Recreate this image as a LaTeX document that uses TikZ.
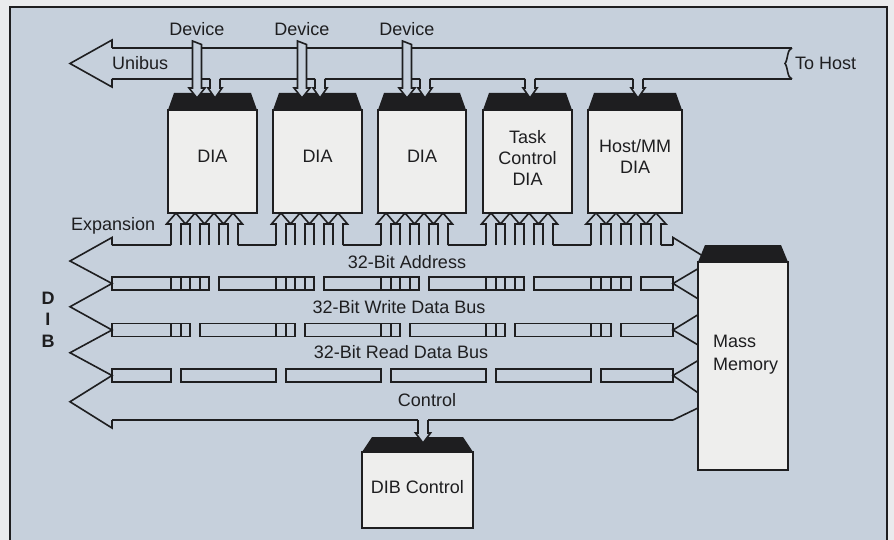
\documentclass[tikz,border=0pt]{standalone}
\usepackage{fontspec}
\setmainfont{Liberation Sans}
\definecolor{paper}{RGB}{234,235,237}
\definecolor{bg}{RGB}{198,208,220}
\definecolor{chipw}{RGB}{238,238,237}
\definecolor{ink}{RGB}{30,30,32}
\tikzset{
 ln/.style={draw=ink, line width=1.6pt, line join=miter, line cap=butt},
 lbl/.style={font=\fontsize{18}{21.5}\selectfont, text=ink, inner sep=0pt},
 boldlbl/.style={font=\fontsize{18}{21.5}\selectfont\bfseries, text=ink, inner sep=0pt},
 chipbody/.style={ln, fill=chipw},
 chiptop/.style={fill=ink},
 arrowfill/.style={fill=bg},
}
\begin{document}
\begin{tikzpicture}[x=1pt,y=-1pt]
\useasboundingbox (0,0) rectangle (894,540);
\fill[paper] (0,0) rectangle (894,540);
\fill[bg] (10,7) rectangle (887,560);
\draw[ln] (10,560) -- (10,7) -- (887,7) -- (887,560);

% ---------- DIA chips ----------
\foreach \L/\R in {168/257, 273/362, 378/466, 483/572, 588/682} {
  \fill[chiptop] (\L,110) -- ({\L+6},93) -- ({\R-6},93) -- (\R,110) -- cycle;
  \draw[chipbody] (\L,110) rectangle (\R,213);
}
\node[lbl, anchor=base] (dia1) at (212.5,163) {DIA};
\node[lbl, anchor=base] (dia2) at (317.5,163) {DIA};
\node[lbl, anchor=base] (dia3) at (422,163) {DIA};
\node[lbl, anchor=base, align=center] (tcdia) at (527.5,186) {Task\\Control\\DIA};
\node[lbl, anchor=base, align=center] (hmdia) at (635,174) {Host/MM\\DIA};

% ---------- Unibus ----------
\draw[ln] (112,48) -- (112,40) -- (70,63.5) -- (112,87) -- (112,79);
\draw[ln] (112,48) -- (192.5,48);
\draw[ln] (201.5,48) -- (297.5,48);
\draw[ln] (306.5,48) -- (402.5,48);
\draw[ln] (411.5,48) -- (792,48);
\draw[ln] (112,79) -- (192.5,79);
\draw[ln] (201.5,79) -- (210,79);
\draw[ln] (220,79) -- (297.5,79);
\draw[ln] (306.5,79) -- (315,79);
\draw[ln] (325,79) -- (402.5,79);
\draw[ln] (411.5,79) -- (420,79);
\draw[ln] (430,79) -- (525,79);
\draw[ln] (535,79) -- (633,79);
\draw[ln] (643,79) -- (792,79);
\draw[ln] (792,48) .. controls (787,49) and (788,60) .. (785,63.5)
                   .. controls (788,67) and (787,78) .. (792,79);
\node[lbl, anchor=base west] (unibus) at (112,70) {Unibus};
\node[lbl, anchor=base west] (tohost) at (795,70) {To Host};

% device arrows
\foreach \c/\n in {197/1, 302/2, 407/3} {
  \draw[ln, arrowfill] ({\c-4.5},88) -- ({\c-4.5},41) -- ({\c+4.5},44.5) -- ({\c+4.5},88)
     -- ({\c+8},88) -- (\c,98) -- ({\c-8},88) -- cycle;
  \node[lbl, anchor=base] (dev\n) at (\c,36) {Device};
}
% unibus taps
\foreach \c in {215, 320, 425, 530, 638} {
  \fill[arrowfill] ({\c-5},79) -- ({\c-5},88) -- ({\c-7},88) -- (\c,98) -- ({\c+7},88) -- ({\c+5},88) -- ({\c+5},79) -- cycle;
  \draw[ln] ({\c-5},79) -- ({\c-5},88) -- ({\c-7},88) -- (\c,98) -- ({\c+7},88) -- ({\c+5},88) -- ({\c+5},79);
}

% ---------- DIB buses ----------
% left heads
\draw[ln] (112,245) -- (112,237.5) -- (70,261) -- (112,283.5) -- (70,306.75) -- (112,330)
   -- (70,352.75) -- (112,375.5) -- (70,401.75) -- (112,428) -- (112,420);
% right heads
\draw[ln] (673,245) -- (673,237.5) -- (711,261) -- (673,283.5) -- (711,306.75) -- (673,330)
   -- (711,352.75) -- (673,375.5) -- (711,401.75) -- (673,420);
% expansion / address top line
\draw[ln] (112,245) -- (171,245);
\draw[ln] (238,245) -- (276,245);
\draw[ln] (343,245) -- (381,245);
\draw[ln] (448,245) -- (486,245);
\draw[ln] (553,245) -- (591,245);
\draw[ln] (661,245) -- (673,245);
% strip A
\foreach \a/\b in {112/209, 219/314, 324/419, 429/524, 534/631, 641/673}
  \draw[ln] (\a,277) rectangle (\b,290);
% strip B
\foreach \a/\b in {112/190, 200/295, 305/400, 410/505, 515/611, 621/673}
  \draw[ln] (\a,323.5) rectangle (\b,336.5);
% strip C
\foreach \a/\b in {112/171, 181/276, 286/381, 391/486, 496/591, 601/673}
  \draw[ln] (\a,369) rectangle (\b,382);
% control bottom line
\draw[ln] (112,420) -- (418,420);
\draw[ln] (428,420) -- (673,420);

% chip taps to the DIB (four up arrows per chip)
\foreach \L/\p in {168/19, 273/19, 378/19, 483/19, 588/20} {
  \pgfmathsetmacro\sa{\L+3}
  \pgfmathsetmacro\sb{\L+3+\p}
  \pgfmathsetmacro\sc{\L+3+2*\p}
  \pgfmathsetmacro\sd{\L+3+3*\p}
  \pgfmathsetmacro\hh{\p/2}
  \draw[ln] (\sa,245) -- (\sa,224) -- ({\sa+5-\hh},224) -- ({\sa+5},213) -- ({\sa+5+\hh},224)
     -- ({\sb+5},213) -- ({\sb+5+\hh},224) -- ({\sc+5},213) -- ({\sc+5+\hh},224)
     -- ({\sd+5},213) -- ({\sd+5+\hh},224) -- ({\sd+10},224) -- ({\sd+10},245);
  \draw[ln] ({\sa+10},245) -- ({\sa+10},224) -- (\sb,224) -- (\sb,245);
  \draw[ln] ({\sb+10},245) -- ({\sb+10},224) -- (\sc,224) -- (\sc,245);
  \draw[ln] ({\sc+10},245) -- ({\sc+10},224) -- (\sd,224) -- (\sd,245);
  \draw[ln] (\sa,277) -- (\sa,290);
  \draw[ln] ({\sa+10},277) -- ({\sa+10},290);
  \draw[ln] (\sb,277) -- (\sb,290);
  \draw[ln] ({\sb+10},277) -- ({\sb+10},290);
  \draw[ln] (\sa,323.5) -- (\sa,336.5);
  \draw[ln] ({\sa+10},323.5) -- ({\sa+10},336.5);
}

% ---------- Mass Memory ----------
\fill[chiptop] (698,262) -- (705,245) -- (781,245) -- (788,262) -- cycle;
\draw[chipbody] (698,262) rectangle (788,470);
\node[lbl, anchor=base west, align=left] (mm) at (713,370) {Mass\\[1.5pt]Memory};

% ---------- DIB Control ----------
\fill[chiptop] (362,452) -- (372,437) -- (463,437) -- (473,452) -- cycle;
\draw[chipbody] (362,452) rectangle (473,528);
\fill[arrowfill] (418,420) -- (418,433) -- (415.5,433) -- (423,443) -- (430.5,433) -- (428,433) -- (428,420) -- cycle;
\draw[ln] (418,420) -- (418,433) -- (415.5,433) -- (423,443) -- (430.5,433) -- (428,433) -- (428,420);
\node[lbl, anchor=base] (dibc) at (417.5,493) {DIB Control};

% ---------- bus labels ----------
\node[lbl, anchor=base west] (exp) at (71,230) {Expansion};
\node[lbl, anchor=base] (addr) at (407,268) {32-Bit Address};
\node[lbl, anchor=base] (wdb) at (399,313) {32-Bit Write Data Bus};
\node[lbl, anchor=base] (rdb) at (401,358.5) {32-Bit Read Data Bus};
\node[lbl, anchor=base] (ctl) at (427,406.5) {Control};
\node[boldlbl, anchor=base] (dibD) at (48,304) {D};
\node[boldlbl, anchor=base] (dibI) at (48,325.5) {I};
\node[boldlbl, anchor=base] (dibB) at (48,347) {B};
\end{tikzpicture}
\end{document}
